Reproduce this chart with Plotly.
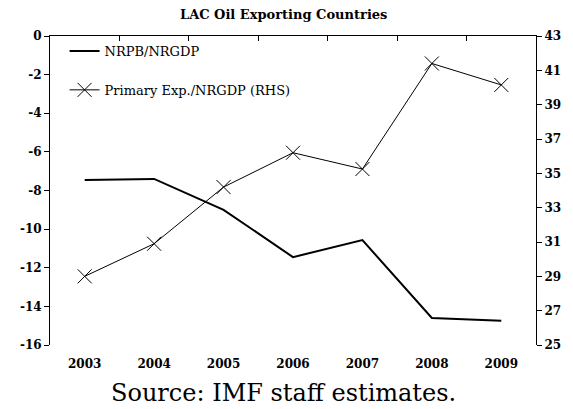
import plotly.graph_objects as go

# Data
years = ["2003", "2004", "2005", "2006", "2007", "2008", "2009"]
nrpb_nrgdp = [-7.45, -7.4, -9.0, -11.45, -10.57, -14.6, -14.75]
primary_exp = [29.0, 30.9, 34.2, 36.2, 35.25, 41.4, 40.15]

left_ticks = [0, -2, -4, -6, -8, -10, -12, -14, -16]
right_ticks = [25, 27, 29, 31, 33, 35, 37, 39, 41, 43]

SERIF = "DejaVu Serif"

fig = go.Figure()

# Main balance line (left axis)
fig.add_trace(
    go.Scatter(
        x=years,
        y=nrpb_nrgdp,
        name="NRPB/NRGDP",
        mode="lines",
        line=dict(color="black", width=2),
        legendgroup="a",
    )
)

# Primary expenditure (right axis)
fig.add_trace(
    go.Scatter(
        x=years,
        y=primary_exp,
        name="Primary Exp./NRGDP (RHS)",
        mode="lines+markers",
        line=dict(color="black", width=1),
        marker=dict(symbol="x-thin", size=14, line=dict(color="black", width=1)),
        yaxis="y2",
        legendgroup="b",
    )
)

# Dummy trace on the top axis so the boundary ticks line is drawn
fig.add_trace(
    go.Scatter(
        x=years,
        y=[None] * len(years),
        xaxis="x2",
        showlegend=False,
        hoverinfo="skip",
    )
)

# page body adds an 8px offset, so the figure is sized to compensate
fig.update_layout(
    width=565,
    height=401,
    plot_bgcolor="white",
    paper_bgcolor="white",
    margin=dict(l=37, r=25, t=28, b=64),
    font=dict(family=SERIF, color="black"),
    showlegend=True,
    legend=dict(
        x=0.03,
        y=1.0,
        xanchor="left",
        yanchor="top",
        bgcolor="rgba(0,0,0,0)",
        font=dict(family=SERIF, size=13, color="black"),
        traceorder="grouped",
        tracegroupgap=19,
        itemwidth=30,
    ),
    xaxis=dict(
        type="category",
        categoryarray=years,
        range=[-0.5, 6.5],
        showline=False,
        showgrid=False,
        zeroline=False,
        ticks="",
        tickfont=dict(family=SERIF, size=12, color="black", weight="bold"),
        ticklabelstandoff=10,
    ),
    xaxis2=dict(
        type="category",
        categoryarray=years,
        range=[-0.5, 6.5],
        overlaying="x",
        side="top",
        showline=True,
        linecolor="black",
        linewidth=1,
        showgrid=False,
        zeroline=False,
        ticks="inside",
        tickson="boundaries",
        ticklen=5,
        tickcolor="black",
        showticklabels=False,
    ),
    yaxis=dict(
        range=[-16, 0],
        tickvals=left_ticks,
        ticktext=[str(v) for v in left_ticks],
        showline=True,
        linecolor="black",
        linewidth=1,
        showgrid=False,
        zeroline=False,
        ticks="outside",
        ticklen=5,
        tickcolor="black",
        tickfont=dict(family=SERIF, size=12, color="black", weight="bold"),
    ),
    yaxis2=dict(
        range=[25, 43],
        tickvals=right_ticks,
        overlaying="y",
        side="right",
        showline=True,
        linecolor="black",
        linewidth=1,
        showgrid=False,
        zeroline=False,
        ticks="outside",
        ticklen=5,
        tickcolor="black",
        tickfont=dict(family=SERIF, size=12, color="black", weight="bold"),
    ),
)

# Subtitle
fig.add_annotation(
    text="<b>LAC Oil Exporting Countries</b>",
    xref="paper", yref="paper",
    x=0.48, y=1.0, yshift=22,
    xanchor="center", yanchor="middle",
    showarrow=False,
    font=dict(family=SERIF, size=13, color="black"),
)

# Source note
fig.add_annotation(
    text="Source: IMF staff estimates.",
    xref="paper", yref="paper",
    x=0.48, y=0, yshift=-48,
    xanchor="center", yanchor="middle",
    showarrow=False,
    font=dict(family=SERIF, size=24, color="black"),
)

fig.write_html("out.html")
